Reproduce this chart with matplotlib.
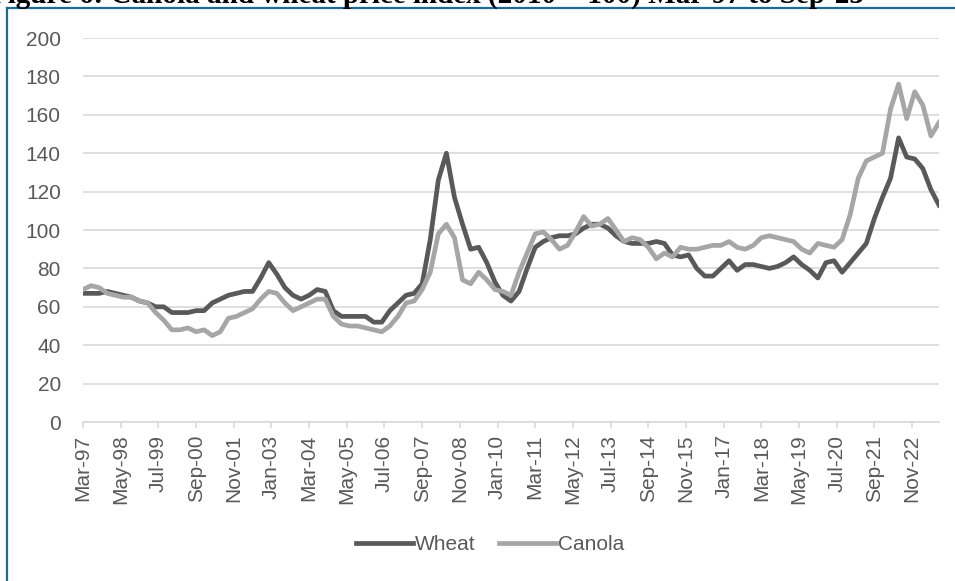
import numpy as np
import matplotlib
matplotlib.use("Agg")
import matplotlib.pyplot as plt
from matplotlib.lines import Line2D

plt.rcParams['font.family'] = ['Liberation Sans', 'DejaVu Sans']

# quarterly index values, Mar-97 to Sep-23
wheat = [67, 67, 67, 68, 67, 66, 65, 63, 62, 60,
         60, 57, 57, 57, 58, 58, 62, 64, 66, 67,
         68, 68, 75, 83, 77, 70, 66, 64, 66, 69,
         68, 58, 55, 55, 55, 55, 52, 52, 58, 62,
         66, 67, 72, 95, 126, 140, 117, 103, 90, 91,
         83, 73, 66, 63, 68, 80, 91, 94, 96, 97,
         97, 98, 101, 103, 103, 101, 97, 94, 93, 93,
         93, 94, 93, 87, 86, 87, 80, 76, 76, 80,
         84, 79, 82, 82, 81, 80, 81, 83, 86, 82,
         79, 75, 83, 84, 78, 83, 88, 93, 106, 117,
         127, 148, 138, 137, 132, 121, 113]
canola = [69, 71, 70, 67, 66, 65, 65, 63, 62, 57,
          53, 48, 48, 49, 47, 48, 45, 47, 54, 55,
          57, 59, 64, 68, 67, 62, 58, 60, 62, 64,
          64, 55, 51, 50, 50, 49, 48, 47, 50, 55,
          62, 63, 69, 78, 98, 103, 96, 74, 72, 78,
          74, 69, 68, 66, 78, 88, 98, 99, 95, 90,
          92, 99, 107, 102, 103, 106, 100, 94, 96, 95,
          91, 85, 88, 86, 91, 90, 90, 91, 92, 92,
          94, 91, 90, 92, 96, 97, 96, 95, 94, 90,
          88, 93, 92, 91, 95, 108, 127, 136, 138, 140,
          163, 176, 158, 172, 165, 149, 156]
tick_labels = ['Mar-97', 'May-98', 'Jul-99', 'Sep-00', 'Nov-01', 'Jan-03',
               'Mar-04', 'May-05', 'Jul-06', 'Sep-07', 'Nov-08', 'Jan-10',
               'Mar-11', 'May-12', 'Jul-13', 'Sep-14', 'Nov-15', 'Jan-17',
               'Mar-18', 'May-19', 'Jul-20', 'Sep-21', 'Nov-22']

# months since Mar-97
months = np.arange(len(wheat)) * 3
tick_pos = np.arange(len(tick_labels)) * 14

fig = plt.figure(figsize=(9.55, 5.81), dpi=100)
ax = fig.add_axes([83 / 955, 1 - 422 / 581, 856 / 955, 384 / 581])

ax.plot(months, wheat, color='#595959', lw=3.4, label='Wheat', zorder=3)
ax.plot(months, canola, color='#a6a6a6', lw=3.4, label='Canola', zorder=3)

ax.set_xlim(0, 318)
ax.set_ylim(0, 200)
ax.set_yticks(np.arange(0, 201, 20))
ax.grid(axis='y', color='#d9d9d9', lw=1.2)
ax.set_axisbelow(True)
for s in ['top', 'right', 'left']:
    ax.spines[s].set_visible(False)
ax.spines['bottom'].set_color('#d9d9d9')
ax.spines['bottom'].set_linewidth(1.2)

ax.set_xticks(tick_pos)
ax.set_xticklabels(tick_labels, rotation=90)
ax.tick_params(axis='x', length=4, width=1.2, color='#d9d9d9', pad=5,
               labelsize=15, labelcolor='#595959')
ax.tick_params(axis='y', length=0, pad=16, labelsize=15, labelcolor='#595959')

fig.legend(loc='center', bbox_to_anchor=(0.513, 0.062), ncol=2, frameon=False,
           fontsize=15, handlelength=2.75, handletextpad=0.1, columnspacing=1.1,
           labelcolor='#595959')

# caption running off the top edge
fig.text(-0.01, 1 - 3 / 581, 'Figure 6: Canola and wheat price index (2010 = 100) Mar-97 to Sep-23',
         family=['Liberation Serif'], weight='bold', fontsize=21, va='baseline')

# outer frame
frame_col = '#1d6a93'
fig.add_artist(Line2D([7 / 955, 1], [1 - 8 / 581, 1 - 8 / 581],
                      transform=fig.transFigure, color=frame_col, lw=1.6))
fig.add_artist(Line2D([7 / 955, 7 / 955], [0, 1 - 8 / 581],
                      transform=fig.transFigure, color=frame_col, lw=1.6))

fig.savefig('out.png', dpi=100)
